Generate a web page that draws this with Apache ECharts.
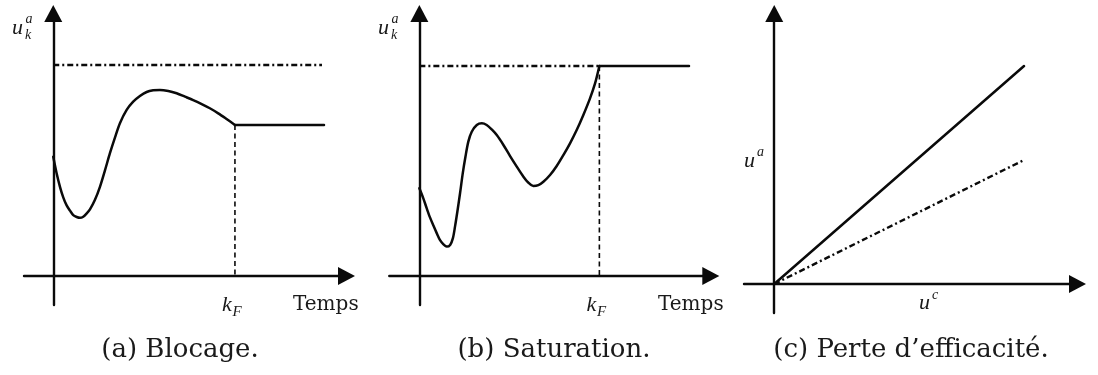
<!DOCTYPE html>
<html>
<head>
<meta charset="utf-8">
<script src="https://cdn.jsdelivr.net/npm/echarts@6/dist/echarts.min.js"></script>
<style>html,body{margin:0;padding:0;background:#fff}#c{width:1098px;height:375px}</style>
</head>
<body>
<div id="c"></div>
<script>
// ---- Data ----
const kF = 10;           // time index k_F
const satLevel = 10;     // saturation level (dash-dot)
// (a) Blocage
const aTime = [0, 0.185, 0.37, 0.55, 0.73, 0.92, 1.10, 1.29, 1.47, 1.65, 1.84, 2.02, 2.29, 2.57, 2.85, 3.12, 3.40, 3.67, 4.04, 4.40, 4.77, 5.14, 5.50, 5.87, 6.33, 6.79, 7.25, 7.70, 8.17, 8.62, 9.08, 9.54, 10];
const aValue = [5.65, 4.87, 4.23, 3.73, 3.36, 3.10, 2.89, 2.80, 2.76, 2.81, 2.97, 3.16, 3.60, 4.23, 5.02, 5.82, 6.57, 7.24, 7.87, 8.26, 8.53, 8.72, 8.80, 8.82, 8.77, 8.66, 8.50, 8.34, 8.15, 7.95, 7.71, 7.44, 7.16];
const aBlockedValue = 7.16;
const aEndTime = 14.9;
const aLimitEnd = 14.79;
// (b) Saturation
const bTime = [0, 0.22, 0.41, 0.59, 0.78, 0.97, 1.15, 1.34, 1.52, 1.71, 1.86, 1.98, 2.11, 2.26, 2.41, 2.56, 2.72, 2.91, 3.19, 3.47, 3.74, 4.02, 4.30, 4.67, 5.04, 5.41, 5.78, 6.06, 6.33, 6.61, 6.89, 7.26, 7.63, 8.0, 8.37, 8.74, 9.11, 9.48, 9.76, 10];
const bValue = [4.18, 3.70, 3.22, 2.79, 2.40, 2.03, 1.71, 1.51, 1.40, 1.48, 1.79, 2.35, 3.06, 3.94, 4.89, 5.68, 6.40, 6.87, 7.19, 7.27, 7.19, 6.98, 6.71, 6.24, 5.71, 5.21, 4.73, 4.44, 4.29, 4.33, 4.49, 4.81, 5.24, 5.76, 6.32, 6.95, 7.67, 8.46, 9.17, 10];
const bEndTime = 14.98;
// (c) Perte d'efficacité
const cCommand = [0, 10];
const cNominal = [0, 10];
const cDegraded = [0, 5.69];
// Texts
const captions = ['(a) Blocage.', '(b) Saturation.', '(c) Perte d\u2019efficacit\u00e9.'];
const timeLabel = 'Temps';

const zip = (xs, ys) => xs.map((x, i) => [x, ys[i]]);

const black = '#0a0a0a';
const serif = 'DejaVu Serif';
const math = 'Liberation Serif';

function axisCommon(min, max) {
  return {
    type: 'value', min: min, max: max,
    axisLine: { show: true, onZero: true, symbol: ['none', 'triangle'], symbolSize: [18, 17],
      lineStyle: { color: black, width: 2.4 } },
    axisTick: { show: false }, axisLabel: { show: false }, splitLine: { show: false }
  };
}

const solid = { color: black, width: 2.5, join: 'round', cap: 'round' };
const dashDot = { color: black, width: 2.4, type: [6, 3, 2, 3] };
const dashed = { color: black, width: 1.6, type: [5, 3.5] };

function line(xi, data, style, smooth) {
  return { type: 'line', xAxisIndex: xi, yAxisIndex: xi, data: data, showSymbol: false,
    smooth: smooth ? 0.3 : false,
    lineStyle: style, silent: true, animation: false, clip: false };
}

function txt(x, y, s, size, font, italic, align) {
  return { type: 'text', x: x, y: y, silent: true,
    style: { text: s, fontSize: size, fontFamily: font, fontStyle: italic ? 'italic' : 'normal',
      fill: '#1a1a1a', align: align || 'left', verticalAlign: 'middle' } };
}

function ukLabel(dx) {
  return [txt(12 + dx, 28, 'u', 22, math, true), txt(25.5 + dx, 19, 'a', 14, math, true), txt(25 + dx, 35, 'k', 14, math, true)];
}
function kfLabel(dx) {
  return [txt(222 + dx, 305, 'k', 22, math, true), txt(232.5 + dx, 312, 'F', 15, math, true)];
}

const option = {
  backgroundColor: '#fff',
  animation: false,
  grid: [
    { left: 24, top: 13.5, width: 322.5, height: 291.5 },
    { left: 389.3, top: 13.5, width: 321.5, height: 291.5 },
    { left: 744, top: 13.5, width: 333.5, height: 299.5 }
  ],
  xAxis: [
    Object.assign(axisCommon(-1.61, 16.14), { gridIndex: 0 }),
    Object.assign(axisCommon(-1.67, 16.19), { gridIndex: 1 }),
    Object.assign(axisCommon(-1.21, 12.14), { gridIndex: 2 })
  ],
  yAxis: [
    Object.assign(axisCommon(-1.37, 12.44), { gridIndex: 0 }),
    Object.assign(axisCommon(-1.38, 12.5), { gridIndex: 1 }),
    Object.assign(axisCommon(-1.33, 12.41), { gridIndex: 2 })
  ],
  series: [
    // (a)
    line(0, [[0, satLevel], [aLimitEnd, satLevel]], dashDot, false),
    line(0, [[kF, aBlockedValue], [kF, 0]], dashed, false),
    line(0, zip(aTime, aValue), solid, true),
    line(0, [[kF, aBlockedValue], [aEndTime, aBlockedValue]], solid, false),
    // (b)
    line(1, [[0, satLevel], [kF, satLevel]], dashDot, false),
    line(1, [[kF, satLevel], [kF, 0]], dashed, false),
    line(1, zip(bTime, bValue), solid, true),
    line(1, [[kF, satLevel], [bEndTime, satLevel]], solid, false),
    // (c)
    line(2, zip(cCommand, cNominal), solid, false),
    line(2, zip(cCommand, cDegraded), dashDot, false)
  ],
  graphic: [].concat(
    ukLabel(0), ukLabel(366), kfLabel(0), kfLabel(364.5),
    [
      txt(293, 305, timeLabel, 20, serif, false),
      txt(658, 305, timeLabel, 20, serif, false),
      txt(744, 161, 'u', 22, math, true), txt(757, 152, 'a', 14, math, true),
      txt(919, 303, 'u', 22, math, true), txt(932, 295, 'c', 14, math, true),
      txt(180, 350, captions[0], 26, serif, false, 'center'),
      txt(554, 350, captions[1], 26, serif, false, 'center'),
      txt(911, 350, captions[2], 26, serif, false, 'center')
    ])
};

const chart = echarts.init(document.getElementById('c'), null, { renderer: 'canvas' });
chart.setOption(option);
</script>
</body>
</html>
